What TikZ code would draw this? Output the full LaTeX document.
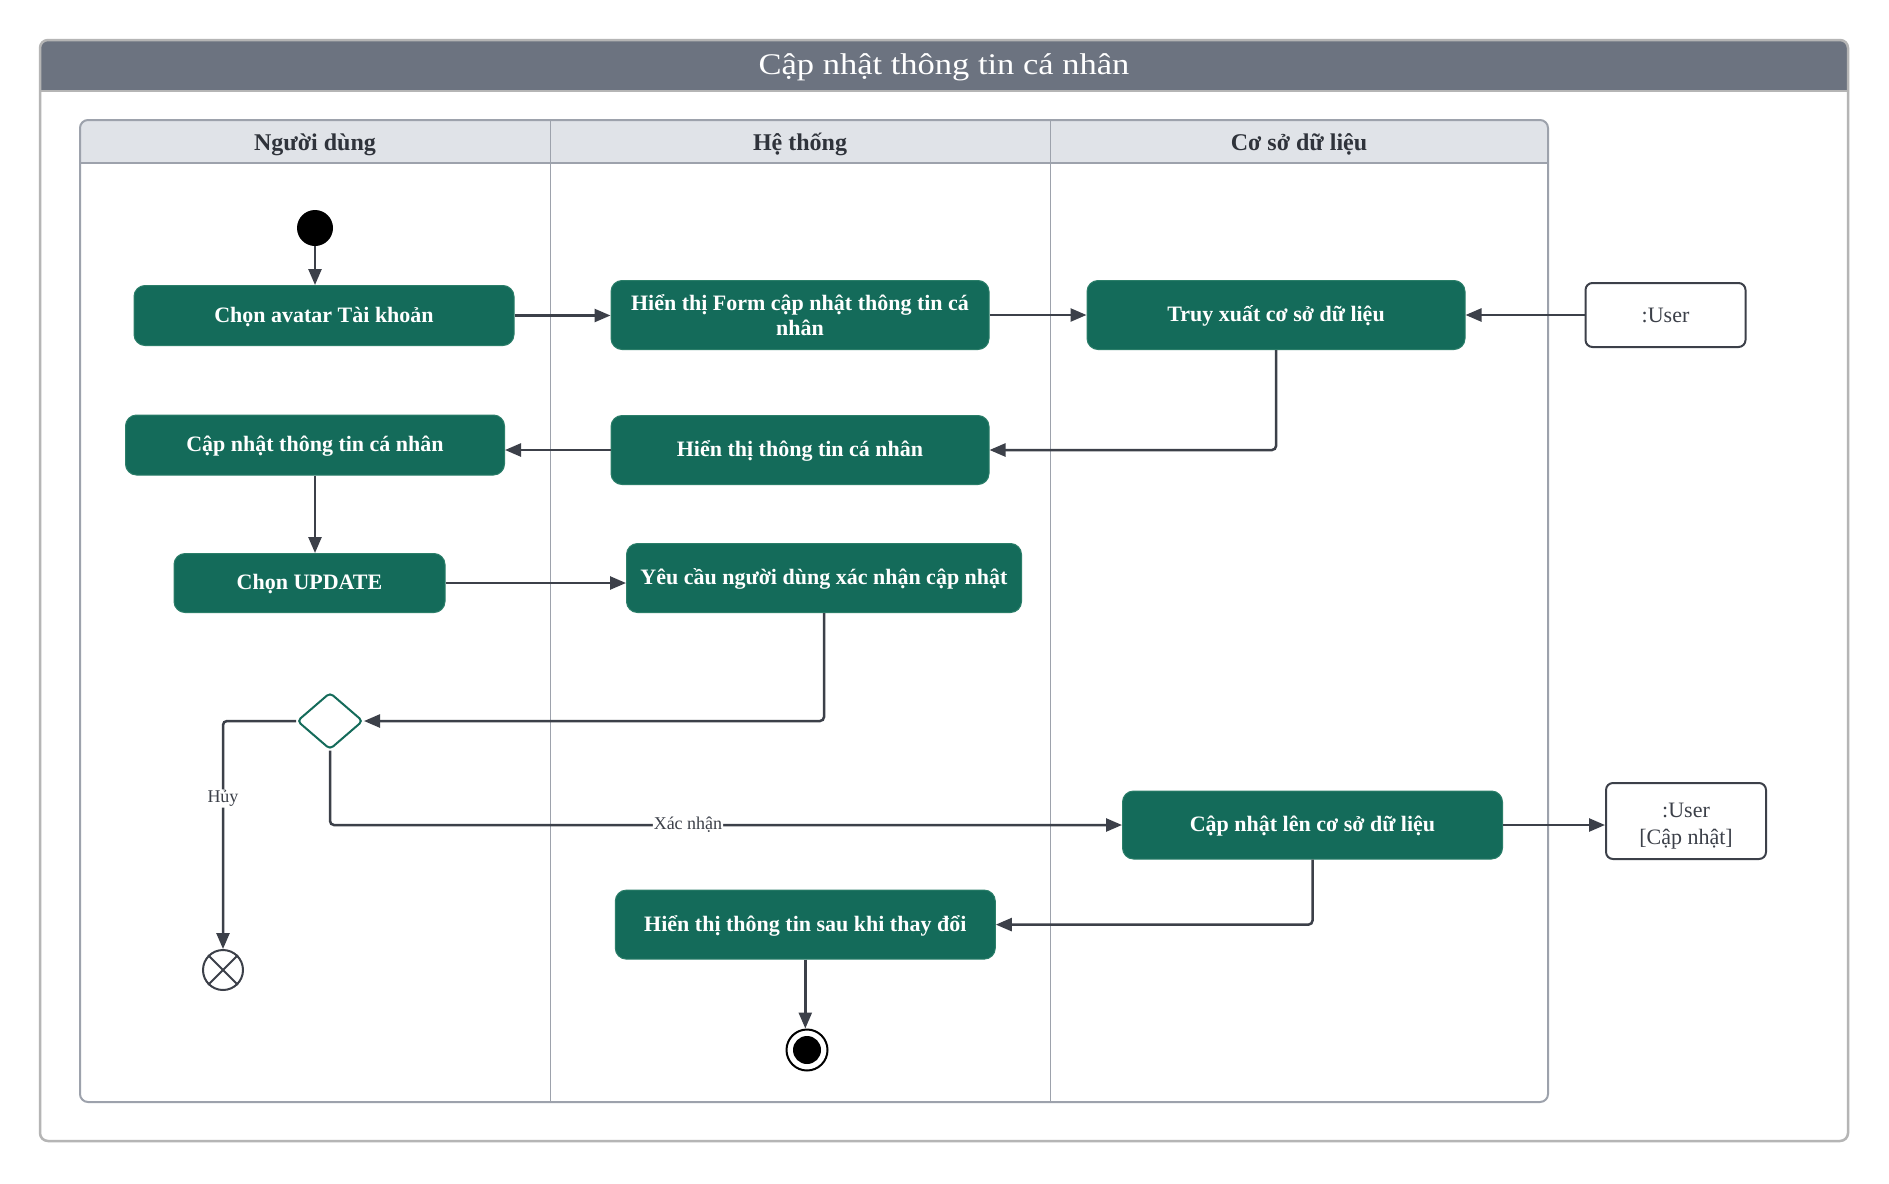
\documentclass[tikz,border=0pt]{standalone}
\usepackage{fontspec}
\setmainfont{Liberation Serif}
\newfontfamily\titlefnt[FakeStretch=1.15]{Liberation Serif}
\usetikzlibrary{arrows.meta,calc,shapes.geometric}

\definecolor{actgreen}{HTML}{146B5A}
\definecolor{actborder}{HTML}{2B7E69}
\definecolor{conn}{HTML}{3C4049}
\definecolor{lanegray}{HTML}{9DA2AC}
\definecolor{headfill}{HTML}{E0E3E8}
\definecolor{titlebar}{HTML}{6C7380}
\definecolor{outerline}{HTML}{B5B5B5}
\definecolor{headtext}{HTML}{2F333B}

% two-line text whose last baseline sits (#3)/2 below the node centre
\newcommand{\twolines}[3]{\raisebox{0pt}[#3pt][0pt]{\begin{tabular}[b]{@{}c@{}}#1\\\relax #2\end{tabular}}}

\begin{document}
\begin{tikzpicture}[x=1pt,y=-1pt,
  act/.style={rectangle, rounded corners=11pt, fill=actgreen, draw=actborder, line width=1pt,
    text=white, font=\fontsize{22}{25}\selectfont\bfseries, inner sep=4pt,
    text height=18.6pt, text depth=5pt},
  acttwo/.style={act, text height={}, text depth={}},
  obj/.style={rectangle, rounded corners=7pt, draw=conn, line width=2pt, fill=white,
    text=conn, font=\fontsize{22}{26.3}\selectfont},
  flow/.style={draw=conn, line width=2.5pt, -{Triangle[length=16pt,width=13pt]}, rounded corners=4pt},
  lbl/.style={fill=white, inner sep=1pt, text=conn, font=\fontsize{18}{20}\selectfont},
  hdr/.style={text=headtext, font=\fontsize{24}{28}\selectfont\bfseries, anchor=base, inner sep=0pt},
]
\useasboundingbox (0,0) rectangle (1889,1183);
\fill[white] (0,0) rectangle (1889,1183);

% outer frame and title bar
\fill[titlebar, rounded corners=8pt] (40,40) rectangle (1848,91);
\fill[titlebar] (40,70) rectangle (1848,91);
\draw[outerline, line width=2pt] (40,91) -- (1848,91);
\draw[outerline, line width=2.5pt, rounded corners=8pt] (40,40) rectangle (1848,1141);
\node[font=\titlefnt\fontsize{30}{34}\selectfont, text=white, anchor=base, inner sep=0pt] (title) at (944,74.5) {Cập nhật thông tin cá nhân};

% swimlanes
\fill[headfill, rounded corners=8pt] (80,120) rectangle (1548,163);
\fill[headfill] (80,140) rectangle (1548,163);
\draw[lanegray, line width=2pt, rounded corners=8pt] (80,120) rectangle (1548,1102);
\draw[lanegray, line width=2pt] (80,163) -- (1548,163);
\draw[lanegray, line width=1.6pt] (550.5,120) -- (550.5,1102);
\draw[lanegray, line width=1.6pt] (1050.5,120) -- (1050.5,1102);
\node[hdr] (h1) at (315,150) {Người dùng};
\node[hdr] (h2) at (800,150) {Hệ thống};
\node[hdr] (h3) at (1299,150) {Cơ sở dữ liệu};

% nodes
\node[circle, fill=black, minimum size=36pt, inner sep=0pt] (start) at (315,228) {};
\node[act, minimum width=380pt, minimum height=60pt] (a1) at (324,315.5) {Chọn avatar Tài khoản};
\node[acttwo, minimum width=378pt, minimum height=69pt] (a2) at (800,315) {\twolines{Hiển thị Form cập nhật thông tin cá}{nhân}{41.5}};
\node[act, minimum width=378pt, minimum height=69pt] (a3) at (1276,315) {Truy xuất cơ sở dữ liệu};
\node[obj, minimum width=160pt, minimum height=64pt, text height=19.6pt, text depth=5pt] (u1) at (1665.5,315) {:User};
\node[act, minimum width=378pt, minimum height=69pt] (a4) at (800,450) {Hiển thị thông tin cá nhân};
\node[act, minimum width=379pt, minimum height=60pt] (a5) at (315,445) {Cập nhật thông tin cá nhân};
\node[act, minimum width=271pt, minimum height=59pt] (a6) at (309.5,583) {Chọn UPDATE};
\node[act, minimum width=395pt, minimum height=69pt] (a7) at (824,578) {Yêu cầu người dùng xác nhận cập nhật};
\node[diamond, draw=actgreen, line width=2pt, fill=white, minimum width=66pt, minimum height=57pt,
  inner sep=0pt, rounded corners=4pt] (dia) at (330,721) {};
\node[circle, draw=conn, line width=2pt, fill=white, minimum size=40pt, inner sep=0pt] (cancel) at (223,970) {};
\draw[conn, line width=2pt] (cancel.north west) -- (cancel.south east);
\draw[conn, line width=2pt] (cancel.north east) -- (cancel.south west);
\node[act, minimum width=380pt, minimum height=68pt] (a8) at (1312.5,825) {Cập nhật lên cơ sở dữ liệu};
\node[obj, minimum width=160pt, minimum height=76pt] (u2) at (1686,821) {\twolines{:User}{[Cập nhật]}{46}};
\node[act, minimum width=380pt, minimum height=69pt] (a9) at (805.3,924.6) {Hiển thị thông tin sau khi thay đổi};
\node[circle, draw=black, line width=2pt, fill=white, minimum size=41pt, inner sep=0pt] (end) at (807,1050) {};
\node[circle, fill=black, minimum size=28pt, inner sep=0pt] (endin) at (end.center) {};

% connectors
\draw[flow] (start.south) -- (start.south |- a1.north);
\draw[flow] (a1.east) -- (a1.east -| a2.west);
\draw[flow] (a2.east) -- (a2.east -| a3.west);
\draw[flow] (u1.west) -- (u1.west -| a3.east);
\draw[flow] (a3.south) |- (a4.east);
\draw[flow] (a4.west) -- (a4.west -| a5.east);
\draw[flow] (a5.south) -- (a5.south |- a6.north);
\draw[flow] (a6.east) -- (a6.east -| a7.west);
\draw[flow] (a7.south) |- (dia.east);
\draw[flow] (dia.west) -| node[lbl, pos=0.67] (lh) {Hủy} (cancel.north);
\draw[flow] (dia.south) |- node[lbl, pos=0.726] (lx) {Xác nhận} (a8.west);
\draw[flow] (a8.east) -- (a8.east -| u2.west);
\draw[flow] (a8.south) |- (a9.east);
\draw[flow] (a9.south) -- (a9.south |- end.north);
\end{tikzpicture}
\end{document}
